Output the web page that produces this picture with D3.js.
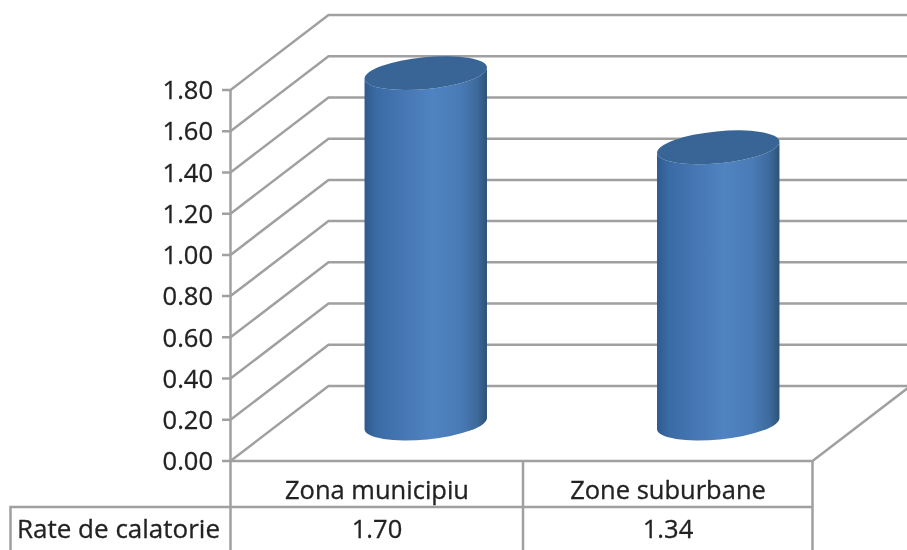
<!DOCTYPE html>
<html>
<head>
<meta charset="utf-8">
<script src="https://cdn.jsdelivr.net/npm/d3@7"></script>
<style>
  html, body { margin: 0; padding: 0; background: #fff; overflow: hidden; }
  svg { filter: blur(0.6px); }
  text { font-family: "Open Sans", Lato, sans-serif; fill: #222; stroke: #222; stroke-width: 0.3px; }
</style>
</head>
<body>
<div id="chart"></div>
<script>
const categories = ['Zona municipiu', 'Zone suburbane']
const values = [1.70, 1.34]
const valueLabels = ['1.70', '1.34']
const rowLabel = 'Rate de calatorie'
const ticks = [0, 0.2, 0.4, 0.6, 0.8, 1.0, 1.2, 1.4, 1.6, 1.8]

const width = 907, height = 550
const gridColor = '#a0a0a0'
// offset of the back wall from the front plane
const depth = { x: 98, y: -75 }
const barDepth = 0.5

const svg = d3.select('#chart').append('svg')
  .attr('width', width).attr('height', height)
  .style('display', 'block')

const axisX = 230.5, rightX = 812.5
const y = d3.scaleLinear().domain([0, 1.8]).range([461, 90])
const x = d3.scaleBand().domain(categories).range([axisX, rightX])
// the cylinders sit a bit wider apart than the table columns
const barX = d3.scaleBand().domain(categories).range([233.5, 818.5])

const defs = svg.append('defs')
const grad = defs.append('linearGradient').attr('id', 'cyl')
  .attr('x1', 0).attr('x2', 1).attr('y1', 0).attr('y2', 0)
grad.selectAll('stop')
  .data([[0, '#2f5a8e'], [0.1, '#3b6ba5'], [0.3, '#4676b2'], [0.55, '#5083c2'], [0.78, '#4a7bb6'], [0.92, '#3d6a9c'], [1, '#2c5278']])
  .join('stop')
  .attr('offset', d => d[0])
  .attr('stop-color', d => d[1])

// grid: tick mark, diagonal up to the back wall, then the wall line
const grid = svg.append('g').attr('fill', 'none').attr('stroke', gridColor).attr('stroke-width', 2.5)
grid.selectAll('path.grid').data(ticks).join('path')
  .attr('class', 'grid')
  .attr('d', d => `M222,${y(d)}H${axisX}L${axisX + depth.x},${y(d) + depth.y}H${width}`)

// axis and floor front edge
grid.append('path').attr('d', `M${axisX},${y(1.8)}V${height}`)
grid.append('path').attr('d', `M${axisX},${y(0)}H${rightX}L${rightX + depth.x},${y(0) + depth.y}`)

// table
grid.append('path').attr('d', `M${rightX},${y(0)}V${height}`)
grid.append('path').attr('d', `M523,${y(0)}V${height}`)
grid.append('path').attr('d', `M10.5,${height}V507H${rightX}`)

// y labels
svg.append('g').selectAll('text').data(ticks).join('text')
  .attr('x', 213)
  .attr('y', d => y(d))
  .attr('dy', '0.36em')
  .attr('text-anchor', 'end')
  .attr('font-size', 25.5)
  .text(d => d.toFixed(2))

// cylinders
const rx = 61.5, ry = 16, tilt = -5.5
const rad = tilt * Math.PI / 180
const ex = rx * Math.cos(rad), ey = rx * Math.sin(rad)
const bars = svg.append('g').selectAll('g').data(categories).join('g')

bars.each(function (cat, i) {
  const cx = barX(cat) + barX.bandwidth() / 2 + depth.x * barDepth - 3
  const by = y(0) + depth.y * barDepth
  const ty = y(values[i]) + depth.y * barDepth
  const g = d3.select(this)
  g.append('path')
    .attr('fill', 'url(#cyl)')
    .attr('d', `M${cx - ex},${ty - ey}L${cx - ex},${by - ey}` +
      `A${rx},${ry} ${tilt} 0 0 ${cx + ex},${by + ey}` +
      `L${cx + ex},${ty + ey}` +
      `A${rx},${ry} ${tilt} 0 1 ${cx - ex},${ty - ey}Z`)
  g.append('ellipse')
    .attr('cx', cx).attr('cy', ty)
    .attr('rx', rx).attr('ry', ry)
    .attr('transform', `rotate(${tilt} ${cx} ${ty})`)
    .attr('fill', '#386595')
})

// table text
svg.append('g').selectAll('text').data(categories).join('text')
  .attr('x', d => x(d) + x.bandwidth() / 2 + 1)
  .attr('y', 499)
  .attr('text-anchor', 'middle')
  .attr('font-size', 25.5)
  .text(d => d)

svg.append('g').selectAll('text').data(valueLabels).join('text')
  .attr('x', (d, i) => x(categories[i]) + x.bandwidth() / 2 + 1)
  .attr('y', 538)
  .attr('text-anchor', 'middle')
  .attr('font-size', 25.5)
  .text(d => d)

svg.append('text')
  .attr('x', 17).attr('y', 538)
  .attr('font-size', 26)
  .text(rowLabel)
</script>
</body>
</html>
